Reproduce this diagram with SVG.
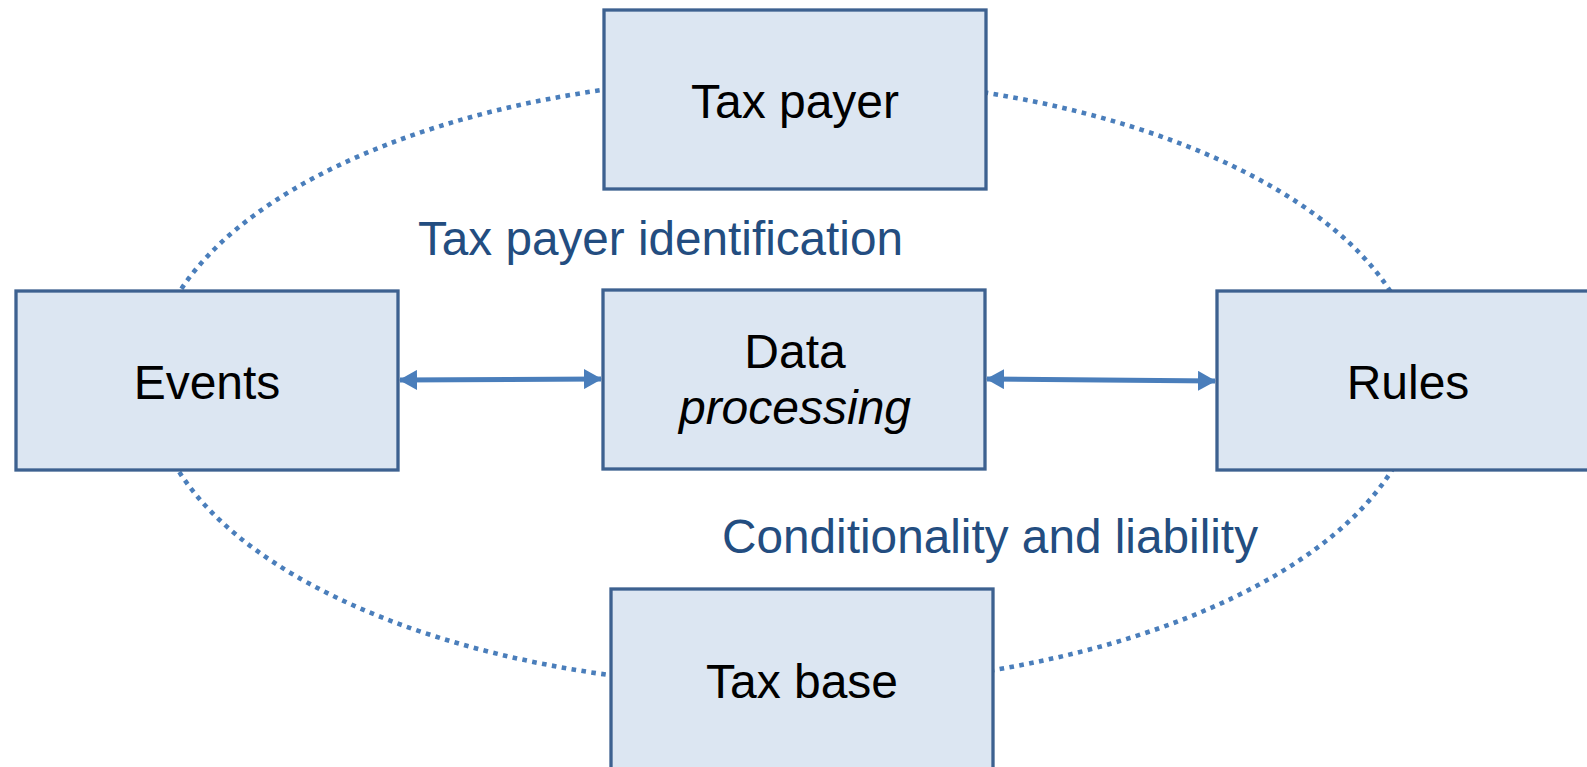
<svg xmlns="http://www.w3.org/2000/svg" width="1587" height="767" viewBox="0 0 1587 767">
<style>
.box{fill:#dce6f2;stroke:#3d6190;stroke-width:3.3;}
.lbl{font-family:"Liberation Sans",Arial,sans-serif;font-size:48px;fill:#000;text-anchor:middle;}
.note{font-family:"Liberation Sans",Arial,sans-serif;font-size:48px;fill:#234d80;}
.dot{fill:none;stroke:#4a7ebb;stroke-width:4.6;stroke-dasharray:4.6 5.4;}
.arr{fill:none;stroke:#4a7ebb;stroke-width:5;}
</style>
<defs>
<marker id="ah" viewBox="0 0 18 20" refX="17" refY="10" markerWidth="18" markerHeight="20" markerUnits="userSpaceOnUse" orient="auto-start-reverse">
<path d="M0,0 L18,10 L0,20 z" fill="#4a7ebb"/>
</marker>
</defs>
<rect width="1587" height="767" fill="#fff"/>
<g id="connectors">
<ellipse class="dot" cx="785" cy="382" rx="634" ry="305"/>
<line class="arr" x1="400" y1="380" x2="601" y2="379" marker-start="url(#ah)" marker-end="url(#ah)"/>
<line class="arr" x1="987" y1="379" x2="1215" y2="381" marker-start="url(#ah)" marker-end="url(#ah)"/>
</g>
<g id="taxpayer">
<rect class="box" x="604" y="10" width="382" height="179"/>
<text class="lbl" x="795" y="118">Tax payer</text>
</g>
<g id="events">
<rect class="box" x="16" y="291" width="382" height="179"/>
<text class="lbl" x="207" y="399">Events</text>
</g>
<g id="dataprocessing">
<rect class="box" x="603" y="290" width="382" height="179"/>
<text class="lbl" x="795" y="368">Data</text>
<text class="lbl" x="795" y="424" font-style="italic">processing</text>
</g>
<g id="rules">
<rect class="box" x="1217" y="291" width="382" height="179"/>
<text class="lbl" x="1408" y="399">Rules</text>
</g>
<g id="taxbase">
<rect class="box" x="611" y="589" width="382" height="190"/>
<text class="lbl" x="802" y="698">Tax base</text>
</g>
<g id="labels">
<text class="note" x="418" y="255" textLength="485" lengthAdjust="spacingAndGlyphs">Tax payer identification</text>
<text class="note" x="722" y="553" textLength="536" lengthAdjust="spacingAndGlyphs">Conditionality and liability</text>
</g>
</svg>
